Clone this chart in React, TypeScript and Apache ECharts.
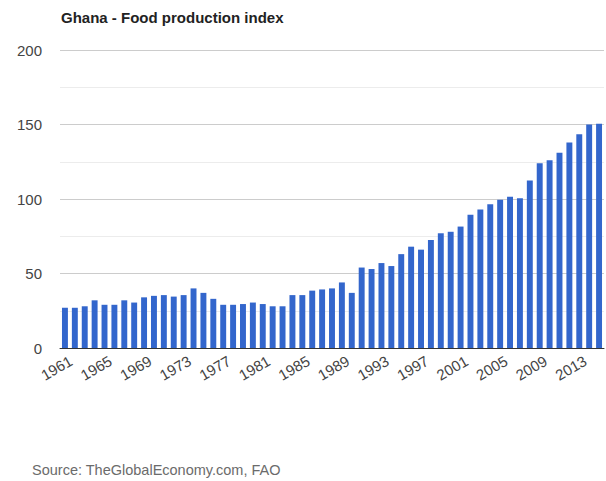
import React, { useEffect, useRef } from "react";
import * as echarts from "echarts";

const years: string[] = [];
for (let y = 1961; y <= 2015; y++) years.push(String(y));

const values = [
  27, 27, 28, 32, 29, 29, 32, 30.5, 34, 35,
  35.5, 34.5, 35.5, 40, 37, 33, 29, 29, 29.5, 30.5,
  29.5, 28, 28, 35.5, 35.5, 38.5, 39.3, 40, 44, 37,
  54, 53, 57, 55, 63, 68, 66, 72.5, 77, 78,
  81.5, 89.5, 93, 96.5, 99.5, 101.5, 100.5, 112.5, 124, 126,
  131, 138, 143.5, 150, 150.5,
];

const titleText = "Ghana - Food production index";
const sourceText = "Source: TheGlobalEconomy.com, FAO";

export default function App() {
  const ref = useRef<HTMLDivElement>(null);
  useEffect(() => {
    document.body.style.margin = "0";
    if (!ref.current) return;
    const chart = echarts.init(ref.current, null, { renderer: "svg" });
    const font = "Arial, 'Liberation Sans', sans-serif";
    chart.setOption({
      animation: false,
      backgroundColor: "#ffffff",
      title: {
        text: titleText,
        left: 56,
        top: 5,
        textStyle: { fontSize: 15, fontWeight: "bold", color: "#222", fontFamily: font },
      },
      graphic: [
        {
          type: "text",
          left: 32,
          top: 462,
          style: { text: sourceText, fontSize: 14.5, fill: "#6b6b6b", fontFamily: font },
        },
      ],
      grid: { left: 60, right: 2, top: 50, height: 298 },
      xAxis: {
        type: "category",
        data: years,
        axisLine: { show: true, lineStyle: { color: "#333", width: 1 } },
        axisTick: { show: false },
        axisLabel: {
          interval: 3,
          rotate: 30,
          fontSize: 15,
          color: "#444",
          fontFamily: font,
          margin: 15,
          padding: [0, -7, 0, 0],
        },
      },
      yAxis: {
        type: "value",
        min: 0,
        max: 200,
        interval: 50,
        axisLine: { show: false },
        axisTick: { show: false },
        axisLabel: { fontSize: 15, color: "#444", fontFamily: font, margin: 18 },
        splitLine: { lineStyle: { color: "#cccccc" } },
        minorTick: { show: false, splitNumber: 2 },
        minorSplitLine: { show: true, lineStyle: { color: "#ececec" } },
      },
      series: [
        {
          type: "bar",
          data: values,
          barCategoryGap: "40%",
          itemStyle: { color: "#3366cc" },
        },
      ],
    });
    return () => chart.dispose();
  }, []);
  return <div ref={ref} style={{ width: 606, height: 481 }} />;
}
